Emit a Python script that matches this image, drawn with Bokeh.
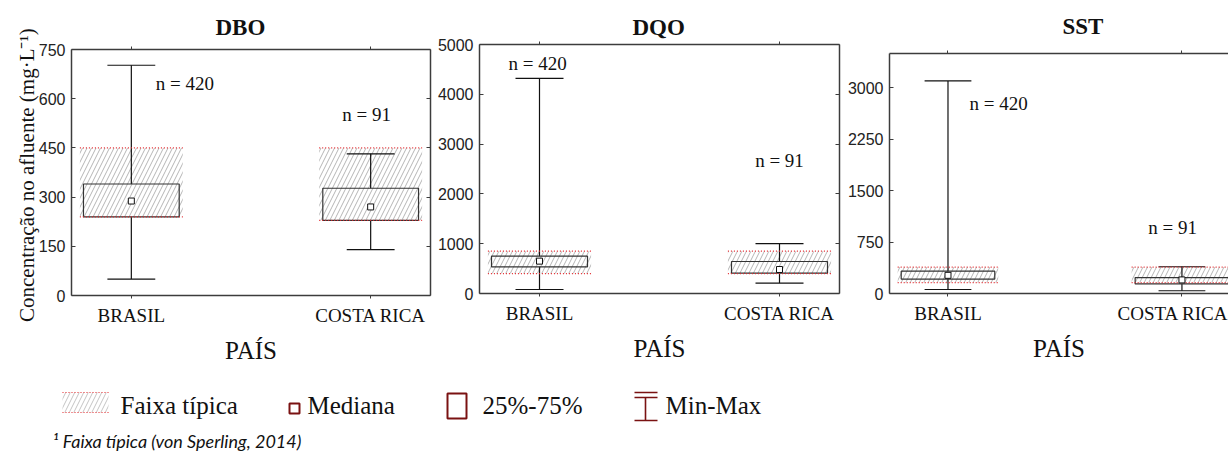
from bokeh.plotting import figure
from bokeh.layouts import column, row
from bokeh.models import Range1d, FixedTicker, LinearAxis, Title
from bokeh.core.properties import value
from bokeh.embed import file_html
from bokeh.resources import INLINE

# ---------------- data ----------------
countries = ["BRASIL", "COSTA RICA"]
country_x = [0, 1]
n_labels = ["n = 420", "n = 91"]

dbo_min = [50, 140]
dbo_q1 = [240, 229]
dbo_med = [288, 270]
dbo_q3 = [340, 327]
dbo_max = [702, 432]
dbo_band_lo = [240, 229]
dbo_band_hi = [450, 450]

dqo_min = [80, 210]
dqo_q1 = [536, 408]
dqo_med = [650, 482]
dqo_q3 = [750, 643]
dqo_max = [4320, 1000]
dqo_band_lo = [400, 400]
dqo_band_hi = [850, 850]

sst_min = [58, 40]
sst_q1 = [210, 140]
sst_med = [265, 198]
sst_q3 = [325, 232]
sst_max = [3100, 390]
sst_band_lo = [160, 160]
sst_band_hi = [385, 385]

dbo_ticks = [0, 150, 300, 450, 600, 750]
dqo_ticks = [0, 1000, 2000, 3000, 4000, 5000]
sst_ticks = [0, 750, 1500, 2250, 3000]

legend_labels = ["Faixa típica", "Mediana", "25%-75%", "Min-Max"]
footnote = "¹ Faixa típica (von Sperling, 2014)"
y_title = "Concentração no afluente  (mg·L⁻¹)"

# annotation positions for the "n =" labels (data coords)
dbo_n_pos = ([0.224, 0.983], [646, 552])
dqo_n_pos = ([-0.008, 1.0], [4618, 2671])
sst_n_pos = ([0.216, 0.96], [2768, 957])

SERIF = "Liberation Serif"
SANS = "Liberation Sans"
FRAME = "#3c3c3c"
BOXW = 0.2
BANDW = 0.215
CAPW = 0.1


def panel(name, mins, q1, med, q3, maxs, blo, bhi, ticks, ymax, npos,
          width, height, bl, br, bt, bb, x_end, title_offset, title_standoff,
          ylabel=None, right=True):
    p = figure(width=width, height=height, x_range=Range1d(-0.25, x_end),
               y_range=Range1d(0, ymax), output_backend="svg",
               toolbar_location=None, min_border_left=bl, min_border_right=br,
               min_border_top=bt, min_border_bottom=bb)
    p.outline_line_color = None
    p.grid.visible = False
    p.background_fill_color = "white"
    p.border_fill_color = "white"

    # y axis (left)
    ya = p.yaxis[0]
    ya.ticker = FixedTicker(ticks=ticks)
    ya.minor_tick_line_color = None
    ya.major_tick_in = 4
    ya.major_tick_out = 0
    ya.major_label_standoff = 6
    ya.major_label_text_font = SANS
    ya.major_label_text_font_size = "16px"
    ya.major_label_text_color = "#222222"
    ya.axis_line_color = FRAME
    ya.axis_line_width = 1.5
    ya.major_tick_line_color = FRAME
    if ylabel:
        ya.axis_label = ylabel
        ya.axis_label_text_font = SERIF
        ya.axis_label_text_font_size = "21px"
        ya.axis_label_text_font_style = "normal"
        ya.axis_label_text_color = "#111111"
        ya.axis_label_standoff = -3

    # x axis (bottom)
    xa = p.xaxis[0]
    xa.ticker = FixedTicker(ticks=country_x)
    xa.major_label_overrides = {x: c for x, c in zip(country_x, countries)}
    xa.minor_tick_line_color = None
    xa.major_tick_in = 0
    xa.major_tick_out = 3
    xa.major_label_standoff = 6
    xa.major_label_text_font = SERIF
    xa.major_label_text_font_size = "19px"
    xa.major_label_text_color = "#111111"
    xa.axis_line_color = FRAME
    xa.axis_line_width = 1.5
    xa.major_tick_line_color = FRAME
    xa.axis_label = "PAÍS"
    xa.axis_label_text_font = SERIF
    xa.axis_label_text_font_size = "25px"
    xa.axis_label_text_font_style = "normal"
    xa.axis_label_text_color = "#111111"
    xa.axis_label_standoff = 8

    # top frame line with small category ticks (no labels)
    ta = LinearAxis(ticker=FixedTicker(ticks=[], minor_ticks=country_x),
                    major_tick_in=0, major_tick_out=0, minor_tick_in=0, minor_tick_out=3,
                    major_label_standoff=0, axis_line_color=FRAME, axis_line_width=1.5,
                    minor_tick_line_color=FRAME)
    p.add_layout(ta, "above")
    if right:
        ra = LinearAxis(ticker=FixedTicker(ticks=[], minor_ticks=ticks),
                        major_tick_in=0, major_tick_out=0, minor_tick_in=4, minor_tick_out=0,
                        major_label_standoff=0, axis_line_color=FRAME, axis_line_width=1.5,
                        minor_tick_line_color=FRAME)
        p.add_layout(ra, "right")

    p.title = Title(text=name, align="left", offset=title_offset, standoff=title_standoff,
                    text_font=SERIF, text_font_size="23px", text_font_style="bold",
                    text_color="#111111")

    xs = country_x
    # typical range band (hatched)
    p.quad(left=[x - BANDW for x in xs], right=[x + BANDW for x in xs], bottom=blo, top=bhi,
           fill_alpha=0, line_color=None, hatch_pattern="/", hatch_color="#b5b5b5",
           hatch_scale=9, hatch_weight=1)
    # whiskers
    p.segment(x0=xs, y0=q3, x1=xs, y1=maxs, line_color="#111111", line_width=1.2)
    p.segment(x0=xs, y0=mins, x1=xs, y1=q1, line_color="#111111", line_width=1.2)
    p.segment(x0=[x - CAPW for x in xs], y0=maxs, x1=[x + CAPW for x in xs], y1=maxs,
              line_color="#111111", line_width=1.2)
    p.segment(x0=[x - CAPW for x in xs], y0=mins, x1=[x + CAPW for x in xs], y1=mins,
              line_color="#111111", line_width=1.2)
    # box
    p.quad(left=[x - BOXW for x in xs], right=[x + BOXW for x in xs], bottom=q1, top=q3,
           fill_alpha=0, line_color="#333333", line_width=1.2)
    # band limits (red dotted)
    for yy in (blo, bhi):
        p.segment(x0=[x - BANDW for x in xs], y0=yy, x1=[x + BANDW for x in xs], y1=yy,
                  line_color="#e3262b", line_dash="1 2", line_width=1.2)
    # median
    p.scatter(x=xs, y=med, marker="square", size=6, fill_color="white",
              line_color="#111111", line_width=1)
    # n labels
    p.text(x=npos[0], y=npos[1], text=n_labels, text_font=value(SERIF),
           text_font_size="19px", text_align="center", text_baseline="middle",
           text_color="#111111")
    return p


p1 = panel("DBO", dbo_min, dbo_q1, dbo_med, dbo_q3, dbo_max, dbo_band_lo, dbo_band_hi,
           dbo_ticks, 750, dbo_n_pos, width=432, height=373, bl=71, br=2, bt=49, bb=78,
           x_end=1.25, title_offset=144, title_standoff=14, ylabel=y_title)
p2 = panel("DQO", dqo_min, dqo_q1, dqo_med, dqo_q3, dqo_max, dqo_band_lo, dqo_band_hi,
           dqo_ticks, 5000, dqo_n_pos, width=409, height=373, bl=47, br=2, bt=44, bb=80,
           x_end=1.25, title_offset=153, title_standoff=4)
p3 = panel("SST", sst_min, sst_q1, sst_med, sst_q3, sst_max, sst_band_lo, sst_band_hi,
           sst_ticks, 3500, sst_n_pos, width=387, height=373, bl=48, br=0, bt=52, bb=80,
           x_end=1.199, title_offset=173, title_standoff=23, right=False)

# ---------------- legend strip ----------------
lg = figure(width=1228, height=80, x_range=Range1d(0, 1228), y_range=Range1d(453, 373),
            output_backend="svg", toolbar_location=None, x_axis_type=None, y_axis_type=None,
            min_border=0)
lg.outline_line_color = None
lg.grid.visible = False
DARK_RED = "#7a1212"

lg.quad(left=[62], right=[108], top=[392], bottom=[412], fill_alpha=0, line_color=None,
        hatch_pattern="/", hatch_color="#c4c4c4", hatch_scale=9, hatch_weight=1)
lg.segment(x0=[62, 62], x1=[108, 108], y0=[392, 412], y1=[392, 412],
           line_color="#e3262b", line_dash="1 2", line_width=1.2)
lg.scatter(x=[294], y=[408], marker="square", size=10, fill_color="white",
           line_color=DARK_RED, line_width=2)
lg.quad(left=[447], right=[466], top=[393], bottom=[418], fill_alpha=0,
        line_color=DARK_RED, line_width=2)
lg.segment(x0=[634, 634, 645, 634], x1=[657, 657, 645, 657],
           y0=[392, 397, 397, 420], y1=[392, 397, 420, 420],
           line_color=DARK_RED, line_width=1.6)
lg.text(x=[120, 307, 482, 665], y=[405, 405, 405, 405], text=legend_labels,
        text_font=value(SERIF), text_font_size="25px", text_baseline="middle",
        text_color="#111111")
lg.text(x=[52], y=[440], text=[footnote], text_font=value("Lato"), text_font_size="18px",
        text_font_style="italic", text_baseline="middle", text_color="#111111")

layout = column(row(column(p1), column(p2), column(p3)), lg)
open("out.html", "w").write(file_html(layout, INLINE))
